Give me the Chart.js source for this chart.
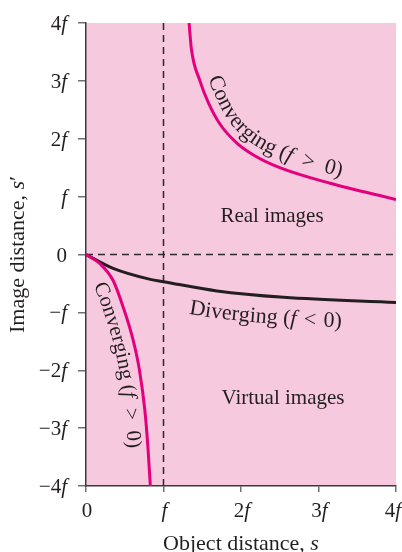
<!DOCTYPE html>
<html>
<head>
<meta charset="utf-8">
<script src="https://cdn.jsdelivr.net/npm/chart.js@4.4.0/dist/chart.umd.min.js"></script>
<style>
  html, body { margin: 0; padding: 0; background: #fff; }
  #wrap { width: 402px; height: 552px; }
</style>
</head>
<body>
<div id="wrap"><canvas id="lensChart" width="402" height="552"></canvas></div>
<script>
// values in units of f
const xTicks = [0, 1, 2, 3, 4];
const yTicks = [-4, -3, -2, -1, 0, 1, 2, 3, 4];

const convRealS  = [1.33, 1.36, 1.47, 1.58, 1.73, 1.95, 2.16, 2.50, 3.15, 4.00];
const convRealSp = [4.00, 3.55, 3.00, 2.62, 2.25, 1.92, 1.72, 1.50, 1.23, 0.95];

const convVirtS  = [0, 0.18, 0.35, 0.48, 0.61, 0.69, 0.76, 0.80, 0.83];
const convVirtSp = [0, -0.16, -0.45, -0.91, -1.49, -2.00, -2.70, -3.35, -4.00];

const divS  = [0, 0.35, 0.83, 1.00, 1.69, 2.55, 4.00];
const divSp = [0, -0.24, -0.43, -0.47, -0.63, -0.74, -0.83];

const zeroLineS = [0, 4], zeroLineSp = [0, 0];
const focalLineS = [1, 1], focalLineSp = [-4, 4];

const PINK = '#e4007c';
const INK = '#231f20';
const BG = 'rgb(247,201,222)';
const SERIF = '"Liberation Serif", "DejaVu Serif", serif';
const EN = '\u2002', THIRD = '\u2004';

const pts = (xs, ys) => xs.map((x, i) => ({ x: x, y: ys[i] }));

function fParts(v) {
  // tick text like 2f, −f, 0 ; f is italic
  if (v === 0) return [['0', false]];
  const parts = [];
  let s = v < 0 ? '\u2212' : '';
  const a = Math.abs(v);
  if (a !== 1) s += a;
  if (s) parts.push([s, false]);
  parts.push(['f', true]);
  return parts;
}

function drawParts(ctx, parts, x, y, align, size) {
  let w = 0;
  parts.forEach(p => { ctx.font = (p[1] ? 'italic ' : '') + size + 'px ' + SERIF; w += ctx.measureText(p[0]).width; });
  let cx = align === 'right' ? x - w : align === 'center' ? x - w / 2 : x;
  ctx.textAlign = 'left';
  parts.forEach(p => {
    ctx.font = (p[1] ? 'italic ' : '') + size + 'px ' + SERIF;
    ctx.fillText(p[0], cx, y);
    cx += ctx.measureText(p[0]).width;
  });
}

// sample the drawn bezier curve of a dataset
function sampleCurve(chart, idx) {
  const els = chart.getDatasetMeta(idx).data;
  const out = [];
  for (let i = 0; i < els.length - 1; i++) {
    const a = els[i], b = els[i + 1];
    const c1x = a.cp2x ?? a.x, c1y = a.cp2y ?? a.y;
    const c2x = b.cp1x ?? b.x, c2y = b.cp1y ?? b.y;
    for (let t = 0; t < 1; t += 0.02) {
      const u = 1 - t;
      out.push({
        x: u*u*u*a.x + 3*u*u*t*c1x + 3*u*t*t*c2x + t*t*t*b.x,
        y: u*u*u*a.y + 3*u*u*t*c1y + 3*u*t*t*c2y + t*t*t*b.y
      });
    }
  }
  const l = els[els.length - 1];
  out.push({ x: l.x, y: l.y });
  return out;
}

function textOnCurve(ctx, samples, parts, startPx, offset, size) {
  // offset polyline (positive = toward letter tops)
  const off = samples.map((p, i) => {
    const a = samples[Math.max(0, i - 1)], b = samples[Math.min(samples.length - 1, i + 1)];
    const dx = b.x - a.x, dy = b.y - a.y, d = Math.hypot(dx, dy) || 1;
    return { x: p.x + dy / d * offset, y: p.y - dx / d * offset };
  });
  const cum = [0];
  for (let i = 1; i < off.length; i++) cum.push(cum[i - 1] + Math.hypot(off[i].x - off[i - 1].x, off[i].y - off[i - 1].y));
  let k = samples.findIndex(p => p.x >= startPx);
  let pos = cum[Math.max(0, k)];
  const at = (s) => {
    let i = 1;
    while (i < cum.length - 1 && cum[i] < s) i++;
    const a = off[i - 1], b = off[i];
    const f = (s - cum[i - 1]) / ((cum[i] - cum[i - 1]) || 1);
    return { x: a.x + (b.x - a.x) * f, y: a.y + (b.y - a.y) * f, ang: Math.atan2(b.y - a.y, b.x - a.x) };
  };
  parts.forEach(p => {
    ctx.font = (p[1] ? 'italic ' : '') + size + 'px ' + SERIF;
    for (const ch of p[0]) {
      const w = ctx.measureText(ch).width;
      const m = at(pos + w / 2);
      ctx.save();
      ctx.translate(m.x, m.y);
      ctx.rotate(m.ang);
      ctx.textAlign = 'center';
      ctx.fillText(ch, 0, 0);
      ctx.restore();
      pos += w;
    }
  });
}

const backdrop = {
  id: 'backdrop',
  beforeDraw(chart) {
    const { ctx, chartArea: a } = chart;
    ctx.save();
    ctx.fillStyle = BG;
    ctx.fillRect(a.left, a.top, a.right - a.left, a.bottom - a.top);
    ctx.restore();
  }
};

const labels = {
  id: 'labels',
  afterDraw(chart) {
    const { ctx, chartArea: area, scales: { x, y } } = chart;
    const size = 21;
    ctx.save();
    ctx.fillStyle = INK;
    ctx.textBaseline = 'alphabetic';

    yTicks.forEach(v => drawParts(ctx, fParts(v), 67, y.getPixelForValue(v) + 7, 'right', size));
    xTicks.forEach(v => {
      const px = x.getPixelForValue(v);
      if (v === 4) drawParts(ctx, fParts(v), 401, 517, 'right', size);
      else drawParts(ctx, fParts(v), px + 1, 517, 'center', size);
    });

    // axis titles
    const midX = (area.left + area.right) / 2, midY = (area.top + area.bottom) / 2;
    drawParts(ctx, [['Object distance, ', false], ['s', true]], midX, 550, 'center', 22);
    ctx.save();
    ctx.translate(24, midY);
    ctx.rotate(-Math.PI / 2);
    drawParts(ctx, [['Image distance, ', false], ['s', true], ['\u2032', false]], 0, 0, 'center', 22);
    ctx.restore();

    // region notes
    ctx.font = size + 'px ' + SERIF;
    ctx.textAlign = 'center';
    ctx.fillText('Real images', 272, 222);
    ctx.fillText('Virtual images', 283, 404);

    // curve labels
    const lab = [['Converging (', false], ['f', true], [EN + '>' + EN + '0)', false]];
    textOnCurve(ctx, sampleCurve(chart, 0), lab, x.getPixelForValue(1.47), 9, 22);
    textOnCurve(ctx, sampleCurve(chart, 1), lab, x.getPixelForValue(0.30), -20, 21);
    textOnCurve(ctx, sampleCurve(chart, 2),
      [['Diverging (', false], ['f', true], [THIRD + '<' + THIRD + '0)', false]], x.getPixelForValue(1.38), -27, 22);
    ctx.restore();
  }
};

const curve = (data, color, order) => ({
  data: data, borderColor: color, borderWidth: 3, pointRadius: 0,
  showLine: true, fill: false, tension: 0.4, cubicInterpolationMode: 'monotone', order: order
});
const dashed = (data) => ({
  data: data, borderColor: '#2a2a2a', borderWidth: 1.5, borderDash: [7, 5],
  pointRadius: 0, showLine: true, fill: false, tension: 0, order: 3
});

new Chart(document.getElementById('lensChart'), {
  type: 'scatter',
  data: {
    datasets: [
      curve(pts(convRealS, convRealSp), PINK, 1),
      curve(pts(convVirtS, convVirtSp), PINK, 1),
      curve(pts(divS, divSp), INK, 1),
      dashed(pts(zeroLineS, zeroLineSp)),
      dashed(pts(focalLineS, focalLineSp))
    ]
  },
  options: {
    responsive: false,
    animation: false,
    devicePixelRatio: 1,
    layout: { padding: { top: 23, right: 6, left: 0, bottom: 0 } },
    plugins: { legend: { display: false }, tooltip: { enabled: false } },
    scales: {
      x: {
        type: 'linear', min: 0, max: 4,
        ticks: { stepSize: 1, display: false },
        grid: { drawOnChartArea: false, drawTicks: true, tickLength: 6, color: '#707070', lineWidth: 1.5 },
        border: { display: true, color: '#3a3a3a', width: 1.5 },
        afterFit(s) { s.height = 66; }
      },
      y: {
        type: 'linear', min: -4, max: 4,
        ticks: { stepSize: 1, display: false },
        grid: { drawOnChartArea: false, drawTicks: true, tickLength: 8, color: '#707070', lineWidth: 1.5 },
        border: { display: true, color: '#3a3a3a', width: 1.5 },
        afterFit(s) { s.width = 86; }
      }
    }
  },
  plugins: [backdrop, labels]
});
</script>
</body>
</html>
